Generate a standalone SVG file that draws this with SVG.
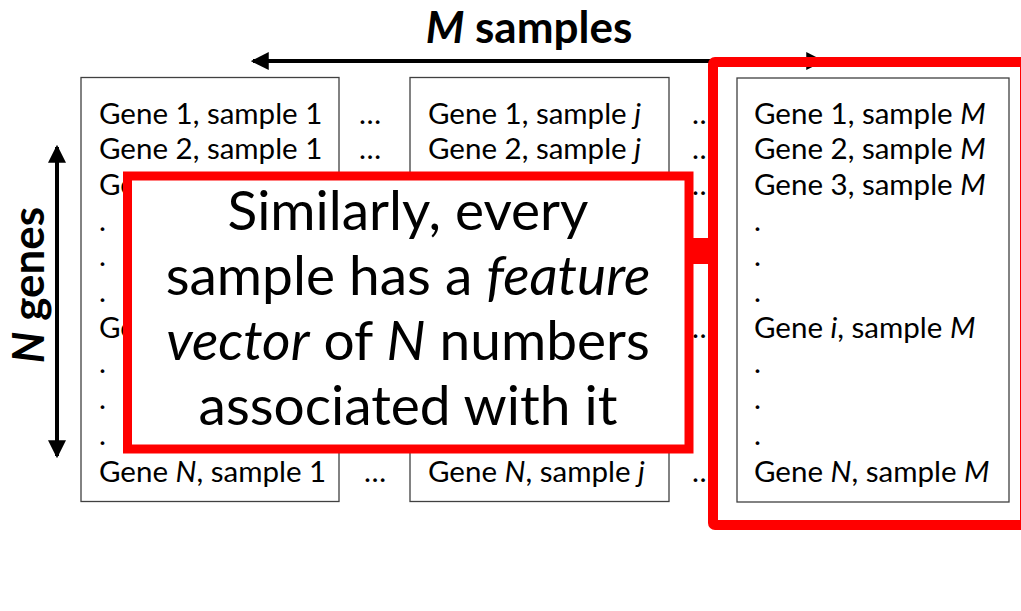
<svg xmlns="http://www.w3.org/2000/svg" width="1021" height="611" viewBox="0 0 1021 611">
<defs>
<marker id="ah" markerUnits="userSpaceOnUse" markerWidth="18" markerHeight="18" viewBox="0 0 16 16" refX="14" refY="8" orient="auto-start-reverse">
<path d="M0,0 L16,8 L0,16 z" fill="#000"/>
</marker>
</defs>
<style>
.t{font-family:Lato,"Liberation Sans",sans-serif;font-size:29.5px;fill:#000}
.big{font-family:Lato,"Liberation Sans",sans-serif;font-size:55px;fill:#000}
.hd{font-family:Lato,"Liberation Sans",sans-serif;font-size:44px;font-weight:bold;fill:#000}
.box{fill:#fff;stroke:#404040;stroke-width:1.3}
.i{font-style:italic}
</style>
<rect width="1021" height="611" fill="#fff"/>
<g id="title"><text class="hd" x="529" y="43" text-anchor="middle"><tspan class="i">M</tspan> samples</text></g>
<g id="ylabel"><text class="hd" transform="translate(44,285) rotate(-90)" text-anchor="middle"><tspan class="i">N</tspan> genes</text></g>
<g id="box1">
<rect class="box" x="81" y="77.5" width="258" height="424"/>
<text class="t" x="99" y="123.5">Gene 1, sample 1</text>
<text class="t" x="99" y="159.2">Gene 2, sample 1</text>
<text class="t" x="99" y="194.9">Ge</text>
<text class="t" x="99" y="230.6">.</text>
<text class="t" x="99" y="266.3">.</text>
<text class="t" x="99" y="302">.</text>
<text class="t" x="99" y="337.7">Ge</text>
<text class="t" x="99" y="373.4">.</text>
<text class="t" x="99" y="409.1">.</text>
<text class="t" x="99" y="444.8">.</text>
<text class="t" x="99" y="481.5">Gene <tspan class="i">N</tspan>, sample 1</text>
</g>
<g id="box2">
<rect class="box" x="410" y="77.5" width="259" height="424"/>
<text class="t" x="428" y="123.5">Gene 1, sample <tspan class="i">j</tspan></text>
<text class="t" x="428" y="159.2">Gene 2, sample <tspan class="i">j</tspan></text>
<text class="t" x="428" y="481.5">Gene <tspan class="i">N</tspan>, sample <tspan class="i">j</tspan></text>
</g>
<g id="box3">
<rect class="box" x="737" y="78" width="272" height="424"/>
<text class="t" x="754" y="123.5">Gene 1, sample <tspan class="i">M</tspan></text>
<text class="t" x="754" y="159.2">Gene 2, sample <tspan class="i">M</tspan></text>
<text class="t" x="754" y="194.9">Gene 3, sample <tspan class="i">M</tspan></text>
<text class="t" x="754" y="230.6">.</text>
<text class="t" x="754" y="266.3">.</text>
<text class="t" x="754" y="302">.</text>
<text class="t" x="754" y="337.7">Gene <tspan class="i">i</tspan>, sample <tspan class="i">M</tspan></text>
<text class="t" x="754" y="373.4">.</text>
<text class="t" x="754" y="409.1">.</text>
<text class="t" x="754" y="444.8">.</text>
<text class="t" x="754" y="481.5">Gene <tspan class="i">N</tspan>, sample <tspan class="i">M</tspan></text>
</g>
<g id="ellipses">
<text class="t" x="359" y="123.5">…</text>
<text class="t" x="359" y="159.2">…</text>
<text class="t" x="364" y="481.5">…</text>
<text class="t" x="692" y="123.5">…</text>
<text class="t" x="692" y="159.2">…</text>
<text class="t" x="692" y="194.9">…</text>
<text class="t" x="692" y="337.7">…</text>
<text class="t" x="692" y="481.5">…</text>
</g>
<g id="connectors">
<line x1="822" y1="61" x2="253" y2="61" stroke="#000" stroke-width="4" marker-start="url(#ah)" marker-end="url(#ah)"/>
<line x1="57" y1="147" x2="57" y2="456" stroke="#000" stroke-width="4" marker-start="url(#ah)" marker-end="url(#ah)"/>
</g>
<g id="highlight">
<rect x="713" y="62" width="312" height="463" fill="none" stroke="#f00" stroke-width="10" rx="2"/>
</g>
<g id="callout">
<rect x="684" y="238" width="29" height="26" fill="#f00"/>
<rect x="127.5" y="176" width="561.5" height="273" fill="#fff" stroke="#f00" stroke-width="9"/>
<text class="big" x="408" y="230" text-anchor="middle">Similarly, every</text>
<text class="big" x="408" y="295" text-anchor="middle">sample has a <tspan class="i">feature</tspan></text>
<text class="big" x="408" y="360" text-anchor="middle"><tspan class="i">vector</tspan> of <tspan class="i">N</tspan> numbers</text>
<text class="big" x="408" y="425" text-anchor="middle">associated with it</text>
</g>
</svg>
